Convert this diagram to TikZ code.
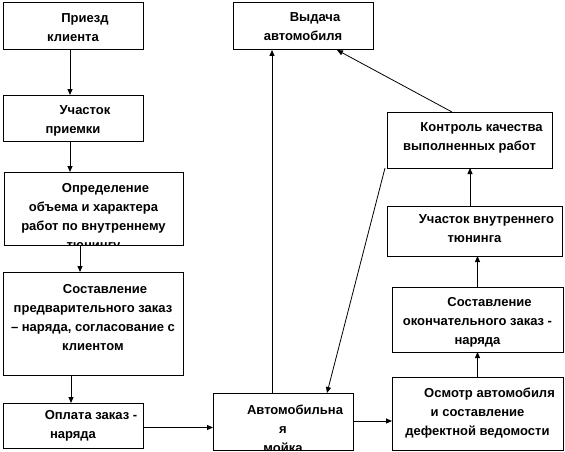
\documentclass[tikz,border=0pt]{standalone}
\usepackage{fontspec}
\setmainfont{Liberation Sans}
\usetikzlibrary{arrows.meta,calc}
\begin{document}
\begin{tikzpicture}[x=1pt,y=-1pt,
  box/.style={draw,line width=1pt,inner sep=0pt,outer sep=0pt},
  txt/.style={anchor=north,align=center,inner sep=0pt,font=\fontsize{13}{19}\selectfont\bfseries},
  arr/.style={draw,line width=0.8pt,-{Triangle[length=6pt,width=5pt]}}]
\useasboundingbox (0,0) rectangle (565,452);
\newcommand\bx[5]{\node[box,minimum width={(#4-#2)*1pt},minimum height={(#5-#3)*1pt}] (#1) at ({(#2+#4)/2},{(#3+#5)/2}) {};}
\newcommand\fl{\rule{0pt}{10pt}\hspace*{24pt}}
% boxes
\bx{A}{3}{3}{143}{50}
\bx{B}{3}{95}{143}{141}
\bx{C}{4}{172}{183}{245}
\bx{D}{3}{272}{183}{375}
\bx{E}{3}{403}{143}{448}
\bx{F}{213}{393}{353}{450}
\bx{G}{392}{377}{563}{450}
\bx{H}{392}{287}{563}{352}
\bx{I}{387}{206}{562}{256}
\bx{J}{387}{112}{552}{168}
\bx{K}{233}{3}{373}{50}
% texts
\node[txt] (At) at ($(A.north)+(0,9)$) {\fl Приезд\\клиента};
\node[txt] (Bt) at ($(B.north)+(0,9)$) {\fl Участок\\приемки};
\begin{scope}
\clip (C.north west) rectangle (C.south east);
\node[txt] (Ct) at ($(C.north)+(0,10)$) {\fl Определение\\объема и характера\\работ по внутреннему\\тюнингу};
\end{scope}
\node[txt] (Dt) at ($(D.north)+(0,11)$) {\fl Составление\\предварительного заказ\\– наряда, согласование с\\клиентом};
\node[txt] (Et) at ($(E.north)+(0,6)$) {\rule{0pt}{10pt}\hspace*{36pt}Оплата заказ -\\наряда};
\begin{scope}
\clip (F.north west) rectangle (F.south east);
\node[txt] (Ft) at ($(F.north)+(0,11)$) {\fl Автомобильна\\я\\мойка};
\end{scope}
\node[txt] (Gt) at ($(G.north)+(0,10)$) {\fl Осмотр автомобиля\\и составление \\дефектной ведомости};
\node[txt] (Ht) at ($(H.north)+(0,9)$) {\fl Составление\\окончательного заказ -\\наряда};
\node[txt] (It) at ($(I.north)+(0,7)$) {\fl Участок внутреннего\\тюнинга};
\node[txt] (Jt) at ($(J.north)+(0,9)$) {\fl Контроль качества\\выполненных работ};
\node[txt] (Kt) at ($(K.north)+(0,8)$) {\fl Выдача\\автомобиля};
% connectors
\draw[arr] ([xshift=-3pt]A.south) -- ([xshift=-3pt]A.south |- B.north);
\draw[arr] ([xshift=-3pt]B.south) -- ([xshift=-3pt]B.south |- C.north);
\draw[arr] ([xshift=-13.5pt]C.south) -- ([xshift=-13.5pt]C.south |- D.north);
\draw[arr] ([xshift=-22pt]D.south) -- ([xshift=-22pt]D.south |- E.north);
\draw[arr] ([yshift=-2pt]E.east) -- ([yshift=-2pt]E.east -| F.west);
\draw[arr] ([yshift=0.5pt]F.east) -- ([yshift=0.5pt]F.east -| G.west);
\draw[arr] (G.north) -- (G.north |- H.south);
\draw[arr] (H.north) -- (H.north |- I.south);
\draw[arr] ([xshift=-4.5pt]I.north) -- ([xshift=-4.5pt]I.north |- J.south);
\draw[arr] ([xshift=-11pt]F.north) -- ([xshift=-11pt]F.north |- K.south);
\draw[arr] ([xshift=65pt]J.north west) -- ([xshift=34pt]K.south);
\draw[arr] ([xshift=-2pt]J.south west) -- ([xshift=44pt]F.north);
\end{tikzpicture}
\end{document}
